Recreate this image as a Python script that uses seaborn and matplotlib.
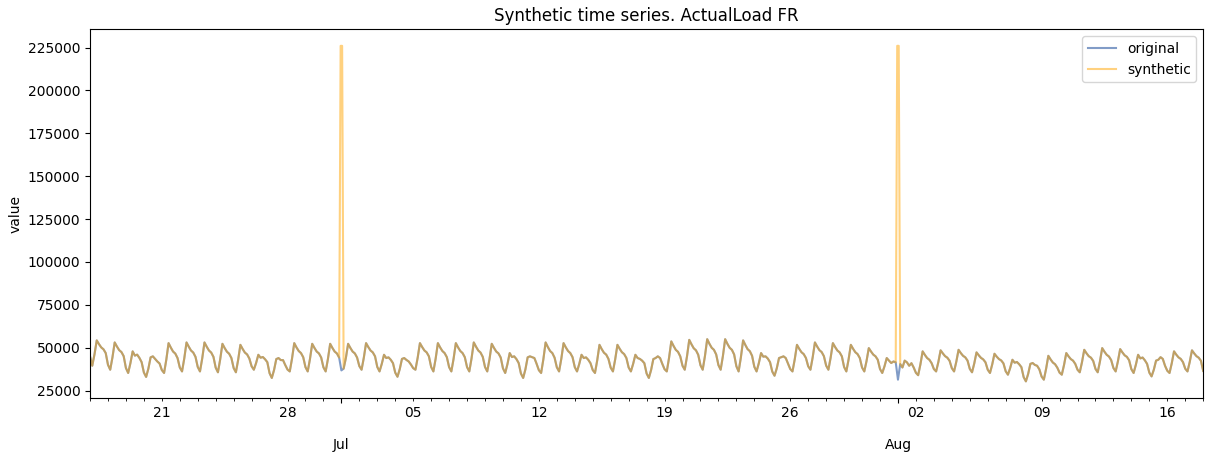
import pandas as pd
import matplotlib
matplotlib.use('Agg')
import matplotlib.pyplot as plt
import matplotlib.dates as mdates
from matplotlib.ticker import FuncFormatter
import seaborn as sns

# ActualLoad FR, 3-hourly readings (00, 03, 06, 09, 12, 15, 18, 21h), one row per day
start_date = '2021-06-17 00:00'
original_load = [
    45000, 39500, 46200, 54300, 52100, 50200, 49100, 46900,  # Jun 17
    40100, 37200, 44400, 53100, 50700, 48600, 47500, 45100,  # Jun 18
    38200, 35300, 41000, 47900, 45400, 46000, 44100, 41600,  # Jun 19
    35600, 33000, 37800, 44400, 45000, 43500, 42000, 40800,  # Jun 20
    37000, 35300, 43100, 52700, 50100, 47800, 46600, 44000,  # Jun 21
    38500, 36200, 43800, 53100, 50600, 48400, 47200, 44700,  # Jun 22
    38800, 36200, 43800, 53100, 50600, 48400, 47200, 44700,  # Jun 23
    38400, 35700, 43200, 52300, 49800, 47700, 46500, 44000,  # Jun 24
    38200, 35700, 42900, 51700, 49300, 47200, 46100, 43700,  # Jun 25
    39200, 37200, 41100, 45900, 44200, 44600, 43300, 41600,  # Jun 26
    35200, 32400, 37000, 43400, 44000, 42800, 42800, 39900,  # Jun 27
    37300, 36200, 43600, 52700, 50200, 48100, 46900, 44500,  # Jun 28
    38700, 36200, 43400, 52300, 49900, 47800, 46700, 44300,  # Jun 29
    38600, 36200, 43400, 52300, 49900, 47800, 46700, 44300,  # Jun 30
    36800, 37800, 44000, 52300, 49900, 47800, 46700, 44300,  # Jul 01
    39300, 37200, 44200, 52700, 50400, 48400, 47300, 45000,  # Jul 02
    38800, 36200, 40600, 45900, 44000, 44400, 43000, 41000,  # Jul 03
    35500, 33100, 37500, 43500, 44000, 42900, 42000, 40200,  # Jul 04
    38100, 37200, 44200, 52700, 50400, 48400, 47300, 45000,  # Jul 05
    38800, 36200, 43600, 52700, 50200, 48100, 46900, 44500,  # Jul 06
    38700, 36200, 43600, 52700, 50200, 48100, 46900, 44500,  # Jul 07
    38700, 36200, 43800, 53100, 50600, 48400, 47200, 44700,  # Jul 08
    38800, 36200, 43400, 52300, 49900, 47800, 46700, 44300,  # Jul 09
    38000, 35300, 40500, 46900, 44600, 45000, 43400, 41100,  # Jul 10
    35000, 32400, 37400, 44400, 45000, 44500, 44000, 40600,  # Jul 11
    36900, 35300, 43300, 53100, 50400, 48100, 46900, 44200,  # Jul 12
    38600, 36200, 43600, 52700, 50200, 48100, 46900, 44500,  # Jul 13
    38700, 36200, 40600, 45900, 44000, 44400, 43000, 41000,  # Jul 14
    37000, 35300, 42700, 51700, 49200, 47100, 46000, 43500,  # Jul 15
    38400, 36200, 43200, 51700, 49400, 47400, 46300, 44000,  # Jul 16
    38500, 36200, 40600, 45900, 44000, 43500, 42500, 41000,  # Jul 17
    35000, 32400, 37000, 43400, 44000, 45000, 44000, 40600,  # Jul 18
    37500, 36200, 44100, 53700, 51100, 48800, 47600, 45000,  # Jul 19
    39500, 37200, 45000, 54600, 52000, 49700, 48500, 45900,  # Jul 20
    39800, 37200, 45200, 55000, 52300, 50000, 48800, 46100,  # Jul 21
    39900, 37200, 45200, 55000, 52300, 50000, 48800, 46100,  # Jul 22
    39200, 36200, 44300, 54300, 51600, 49200, 48000, 45300,  # Jul 23
    38900, 36200, 41000, 46900, 44800, 45000, 43700, 41600,  # Jul 24
    36100, 33700, 38000, 44000, 44500, 45000, 44000, 40800,  # Jul 25
    37600, 36200, 43200, 51700, 49400, 47400, 46300, 44000,  # Jul 26
    39200, 37200, 44400, 53100, 50700, 48600, 47500, 45100,  # Jul 27
    39600, 37200, 44200, 52700, 50400, 48400, 47300, 45000,  # Jul 28
    38800, 36200, 43200, 51700, 49400, 47400, 46300, 44000,  # Jul 29
    38500, 36200, 42300, 49800, 47800, 46000, 45000, 43000,  # Jul 30
    37600, 35300, 39200, 44000, 42500, 41100, 42000, 41500,  # Jul 31
    31400, 40500, 38500, 42500, 41500, 39500, 41000, 38500,  # Aug 01
    35400, 34000, 40300, 47900, 45800, 44000, 43000, 41000,  # Aug 02
    37600, 36200, 41700, 48500, 46700, 45100, 44200, 42400,  # Aug 03
    38100, 36200, 41900, 48800, 46900, 45300, 44400, 42500,  # Aug 04
    37700, 35700, 40900, 47300, 45600, 44100, 43200, 41500,  # Aug 05
    37200, 35300, 40300, 46500, 44800, 43400, 42600, 40900,  # Aug 06
    36300, 34300, 38200, 43000, 41300, 41700, 40400, 38700,  # Aug 07
    32900, 30400, 34700, 40600, 41100, 40000, 39500, 37400,  # Aug 08
    33200, 31400, 37700, 45300, 43200, 41400, 40400, 38400,  # Aug 09
    35500, 34300, 40000, 46900, 45000, 43400, 42500, 40600,  # Aug 10
    37200, 35700, 41600, 48800, 46800, 45100, 44200, 42300,  # Aug 11
    37700, 35700, 42000, 49800, 47700, 45900, 44900, 42800,  # Aug 12
    38200, 36200, 42100, 49200, 47300, 45600, 44700, 42700,  # Aug 13
    37500, 35300, 40100, 45900, 43800, 44300, 42700, 40600,  # Aug 14
    35500, 33300, 37200, 42500, 43000, 44500, 43500, 39500,  # Aug 15
    36600, 35300, 41000, 47900, 46000, 44400, 43500, 41600,  # Aug 16
    37800, 36200, 41700, 48500, 46700, 45100, 44200, 42400,  # Aug 17
    36500,                                                   # Aug 18
]

# anomalies injected in the synthetic series (they replace the midnight readings)
replaced_times = ['2021-07-01 00:00', '2021-08-01 00:00']
spike_times = ['2021-06-30 23:00', '2021-07-01 01:00',
               '2021-07-31 23:00', '2021-08-01 01:00']
spike_values = [226000, 226000, 226000, 226000]

times = pd.date_range(start_date, periods=len(original_load), freq='3h')
orig = pd.DataFrame({'time': times, 'value': original_load})

synth = orig[~orig['time'].isin(pd.to_datetime(replaced_times))]
spikes = pd.DataFrame({'time': pd.to_datetime(spike_times), 'value': spike_values})
synth = pd.concat([synth, spikes]).sort_values('time').reset_index(drop=True)

fig, ax = plt.subplots(figsize=(12.05, 4.54), dpi=100)
plt.subplots_adjust(left=0.0747, right=0.9985, top=0.936, bottom=0.123)

sns.lineplot(data=orig, x='time', y='value', color='#4c72b0', alpha=0.7,
             label='original', ax=ax)
sns.lineplot(data=synth, x='time', y='value', color='orange', alpha=0.5,
             label='synthetic', ax=ax)

ax.set_title('Synthetic time series. ActualLoad FR')
ax.set_xlabel('')
ax.set_ylabel('value')
ax.set_xlim(times[0], times[-1])

# pandas style date axis: days as minor ticks, week starts labelled, month names below
ax.xaxis.set_major_locator(mdates.MonthLocator())
ax.xaxis.set_major_formatter(mdates.DateFormatter('%b'))
ax.xaxis.set_minor_locator(mdates.DayLocator())
ax.tick_params(axis='x', which='major', pad=25.5)


def day_label(x, pos):
    d = mdates.num2date(x)
    return d.strftime('%d') if d.weekday() == 0 else ''


ax.xaxis.set_minor_formatter(FuncFormatter(day_label))
ax.legend(loc='upper right')

plt.savefig('out.png')
